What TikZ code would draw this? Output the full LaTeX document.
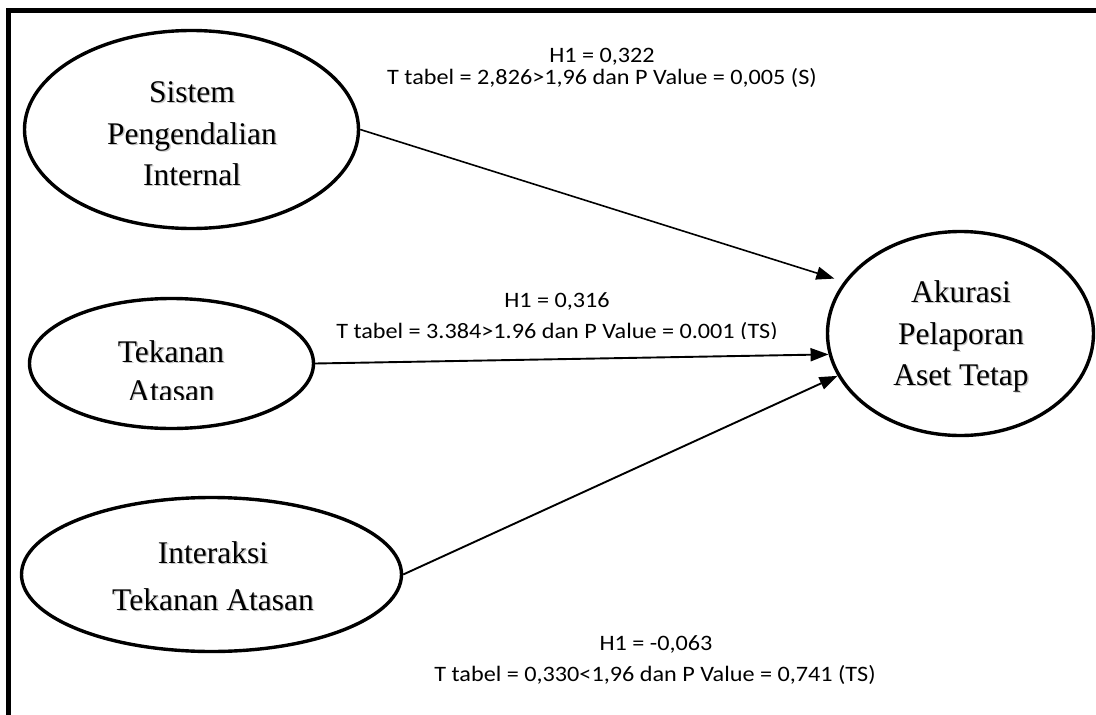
\documentclass[tikz,border=0pt]{standalone}
\usepackage{fontspec}
\setmainfont{Liberation Serif}
\newfontfamily\labelfont[FakeStretch=1.1]{Carlito}
\usetikzlibrary{shapes.geometric,arrows.meta}
% soft drop shadow behind the variable names
\newcommand\shadowed[1]{\leavevmode\rlap{\kern1.4pt\raisebox{-1.4pt}{\textcolor{black!22}{#1}}}#1}

\begin{document}
\begin{tikzpicture}[x=1pt,y=-1pt,
  var/.style={ellipse, draw, line width=3.4pt, inner sep=0pt},
  word/.style={anchor=base, inner sep=0pt, font=\fontsize{31.5}{31.5}\selectfont},
  stat/.style={anchor=base, inner sep=0pt, font=\labelfont\fontsize{22}{22}\selectfont},
  link/.style={line width=1.9pt, -{Triangle[length=18pt,width=13pt]}}]

\useasboundingbox (0,0) rectangle (1096,715);

% frame: top and left rules only
\draw[line width=5pt] (1096,10.5) -- (8.5,10.5) -- (8.5,715);

% latent variables
\node[var, minimum width=334pt, minimum height=198pt] (spi) at (191.5,129.5) {};
\node[var, minimum width=284pt, minimum height=130pt] (ta)  at (171.5,363.5) {};
\node[var, minimum width=380pt, minimum height=154pt] (ita) at (211.5,574.5) {};
\node[var, minimum width=266pt, minimum height=204pt] (apt) at (960.5,333.5) {};

% names inside the ellipses
\node[word] (spi1) at (192,102) {\shadowed{Sistem}};
\node[word] (spi2) at (192,144) {\shadowed{Pengendalian}};
\node[word] (spi3) at (192,185) {\shadowed{Internal}};

\node[word] (ta1) at (171,362) {\shadowed{Tekanan}};
\begin{scope}
  \clip (0,0) rectangle (1096,399.5);
  \node[word] (ta2) at (171,401) {\shadowed{Atasan}};
\end{scope}

\node[word] (ita1) at (213,563) {\shadowed{Interaksi}};
\node[word] (ita2) at (213,610) {\shadowed{Tekanan Atasan}};

\node[word] (apt1) at (961,302) {\shadowed{Akurasi}};
\node[word] (apt2) at (961,344) {\shadowed{Pelaporan}};
\node[word] (apt3) at (961,385) {\shadowed{Aset Tetap}};

% paths
\draw[link, line width=1.6pt, shorten >=10pt] (spi.east) -- (apt.156);
\draw[link] (ta.east) -- (apt.189);
\draw[link] (ita.east) -- (apt.199);

% path coefficients
\node[stat] (h1a) at (602,62) {H1 = 0,322};
\node[stat] (h1b) at (602,84) {T tabel = 2,826>1,96 dan P Value = 0,005 (S)};

\node[stat] (h2a) at (557,307) {H1 = 0,316};
\begin{scope}
  \clip (0,0) rectangle (1096,338.5);
  \node[stat] (h2b) at (557,338) {T tabel = 3.384>1.96 dan P Value = 0.001 (TS)};
\end{scope}

\node[stat] (h3a) at (656,650) {H1 = -0,063};
\node[stat] (h3b) at (655,681) {T tabel = 0,330<1,96 dan P Value = 0,741 (TS)};
\end{tikzpicture}
\end{document}
